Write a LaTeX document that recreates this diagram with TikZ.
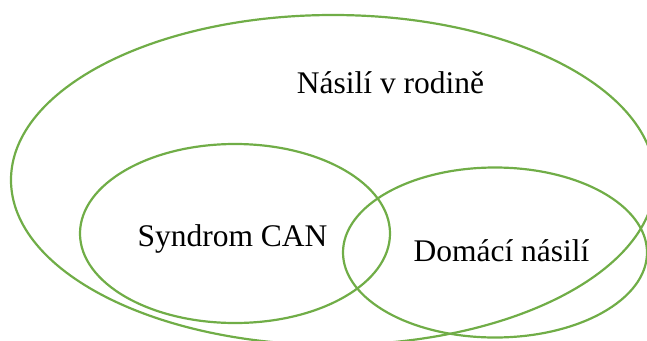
\documentclass[tikz,border=0pt]{standalone}
\usepackage{fontspec}
\setmainfont{Liberation Serif}
\definecolor{vgreen}{HTML}{70AD47}
\tikzset{
  setline/.style={draw=vgreen, line width=2.2pt},
  lbl/.style={anchor=base, inner sep=0pt, font=\fontsize{31.5}{36}\selectfont, text=black}
}
\begin{document}
\begin{tikzpicture}[x=1pt,y=-1pt]
\useasboundingbox (0,0) rectangle (647,340);
\begin{scope}
\clip (0,0) rectangle (647,340);
\draw[setline] (333,180) ellipse [x radius=322, y radius=165];
\draw[setline] (235,233.5) ellipse [x radius=155, y radius=89.5];
\draw[setline] (495,252.5) ellipse [x radius=152, y radius=85];
\end{scope}
\node[lbl] (rodina) at (390.5,93) {Násilí v rodině};
\node[lbl] (can) at (232.5,246) {Syndrom CAN};
\node[lbl] (domaci) at (501.5,261) {Domácí násilí};
\end{tikzpicture}
\end{document}
